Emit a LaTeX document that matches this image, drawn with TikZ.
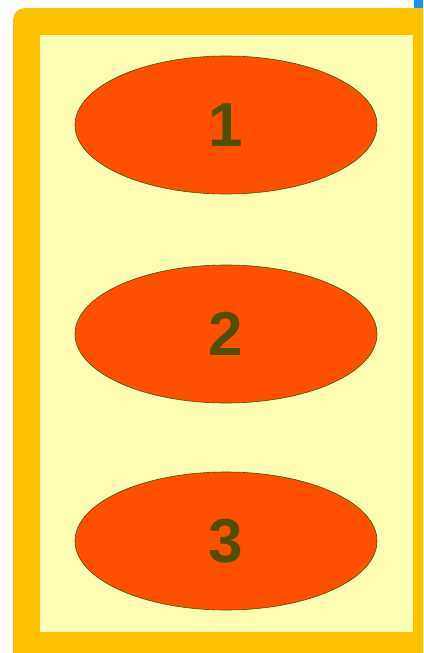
\documentclass[tikz,border=0pt]{standalone}
\usepackage{fontspec}
\setmainfont{Liberation Sans}
\usetikzlibrary{shapes.geometric}
\definecolor{frameorange}{HTML}{FFC000}
\definecolor{paleyellow}{HTML}{FFFFB4}
\definecolor{ellfill}{HTML}{FF5000}
\definecolor{olive}{HTML}{4F4F00}
\definecolor{bluebit}{HTML}{1E8FFF}
\tikzset{
  numell/.style={ellipse, fill=ellfill, draw=olive, line width=0.6pt,
    minimum width=302pt, minimum height=138pt, inner sep=0pt,
    text=olive, font=\fontsize{62}{62}\selectfont\bfseries},
}
\begin{document}
\begin{tikzpicture}[x=1pt,y=-1pt]
\useasboundingbox (0,0) rectangle (423,653);
\clip (0,0) rectangle (423,653);
\fill[frameorange, rounded corners=12pt] (13,8) rectangle (440,670);
\fill[paleyellow] (40,35) rectangle (413,632);
\fill[bluebit] (414,0) rectangle (423,8);
\node[numell] (e1) at (226,125) {1};
\node[numell] (e2) at (226,334) {2};
\node[numell] (e3) at (226,541) {3};
\end{tikzpicture}
\end{document}
